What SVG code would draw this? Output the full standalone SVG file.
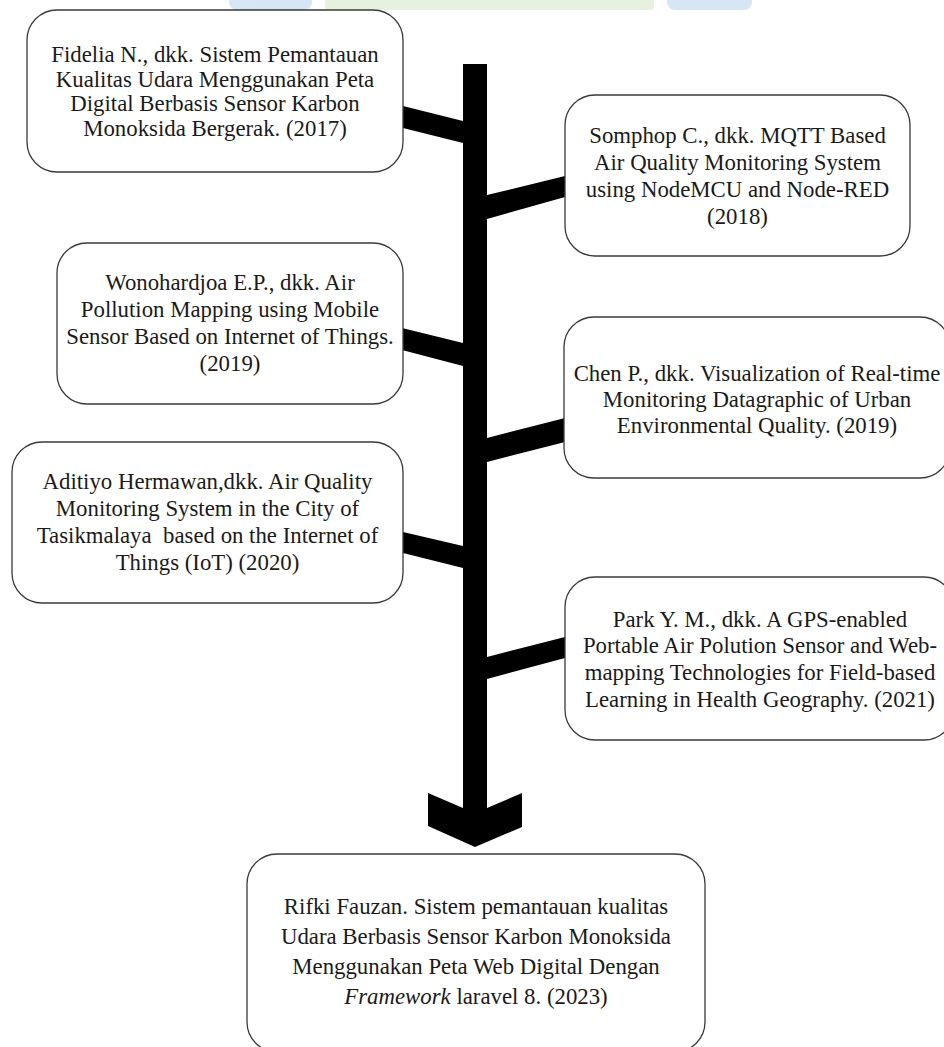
<svg xmlns="http://www.w3.org/2000/svg" width="944" height="1047" viewBox="0 0 944 1047">
<defs>
<style>
.box{fill:#ffffff;stroke:#3a3a3a;stroke-width:1.3}
.t{font-family:"Liberation Serif","Times New Roman",serif;font-size:22.8px;fill:#1a1a1a;text-anchor:middle}
.con{fill:#000000}
</style>
</defs>
<rect width="944" height="1047" fill="#ffffff"/>
<g id="watermark" opacity="0.9">
<rect x="229" y="-10" width="83" height="20" rx="8" fill="#d3e4f4"/>
<rect x="325" y="-10" width="329" height="20" rx="4" fill="#e4f1dc"/>
<rect x="667" y="-10" width="85" height="20" rx="8" fill="#d3e4f4"/>
</g>
<g id="connectors">
<rect class="con" x="463" y="64" width="24" height="752"/>
<polygon class="con" points="428,793 463,808 487,808 522,793 522,827 475,847 428,826"/>
<polygon class="con" points="403,106 463,121 463,143 403,128"/>
<polygon class="con" points="487,195 565,176 565,197 487,219"/>
<polygon class="con" points="402,328 463,343 463,366 402,350"/>
<polygon class="con" points="487,438 565,418 565,442 487,462"/>
<polygon class="con" points="403,532 463,546 463,568 403,553"/>
<polygon class="con" points="487,657 565,637 565,658 487,679"/>
</g>
<g id="node-fidelia">
<rect class="box" x="27" y="10" width="376" height="162" rx="30"/>
<text class="t" x="215" y="62">Fidelia N., dkk. Sistem Pemantauan</text>
<text class="t" x="215" y="87">Kualitas Udara Menggunakan Peta</text>
<text class="t" x="215" y="111">Digital Berbasis Sensor Karbon</text>
<text class="t" x="215" y="136">Monoksida Bergerak. (2017)</text>
</g>
<g id="node-somphop">
<rect class="box" x="565" y="95" width="345" height="161" rx="30"/>
<text class="t" x="737.5" y="143">Somphop C., dkk. MQTT Based</text>
<text class="t" x="737.5" y="170">Air Quality Monitoring System</text>
<text class="t" x="737.5" y="197">using NodeMCU and Node-RED</text>
<text class="t" x="737.5" y="224">(2018)</text>
</g>
<g id="node-wonohardjoa">
<rect class="box" x="57" y="243" width="346" height="161" rx="30"/>
<text class="t" x="230" y="290">Wonohardjoa E.P., dkk. Air</text>
<text class="t" x="230" y="317">Pollution Mapping using Mobile</text>
<text class="t" x="230" y="344">Sensor Based on Internet of Things.</text>
<text class="t" x="230" y="371">(2019)</text>
</g>
<g id="node-chen">
<rect class="box" x="564" y="317" width="386" height="161" rx="30"/>
<text class="t" x="757" y="381">Chen P., dkk. Visualization of Real-time</text>
<text class="t" x="757" y="407">Monitoring Datagraphic of Urban</text>
<text class="t" x="757" y="433">Environmental Quality. (2019)</text>
</g>
<g id="node-aditiyo">
<rect class="box" x="12" y="442" width="391" height="161" rx="30"/>
<text class="t" x="207.5" y="489">Aditiyo Hermawan,dkk. Air Quality</text>
<text class="t" x="207.5" y="516">Monitoring System in the City of</text>
<text class="t" x="207.5" y="543" xml:space="preserve">Tasikmalaya  based on the Internet of</text>
<text class="t" x="207.5" y="570">Things (IoT) (2020)</text>
</g>
<g id="node-park">
<rect class="box" x="565" y="577" width="389" height="163" rx="30"/>
<text class="t" x="760" y="627">Park Y. M., dkk. A GPS-enabled</text>
<text class="t" x="760" y="653">Portable Air Polution Sensor and Web-</text>
<text class="t" x="760" y="680">mapping Technologies for Field-based</text>
<text class="t" x="760" y="707">Learning in Health Geography. (2021)</text>
</g>
<g id="node-rifki">
<rect class="box" x="247" y="854" width="458" height="198" rx="30"/>
<text class="t" x="476" y="914">Rifki Fauzan. Sistem pemantauan kualitas</text>
<text class="t" x="476" y="944">Udara Berbasis Sensor Karbon Monoksida</text>
<text class="t" x="476" y="974">Menggunakan Peta Web Digital Dengan</text>
<text class="t" x="476" y="1004"><tspan font-style="italic">Framework</tspan> laravel 8. (2023)</text>
</g>
</svg>
